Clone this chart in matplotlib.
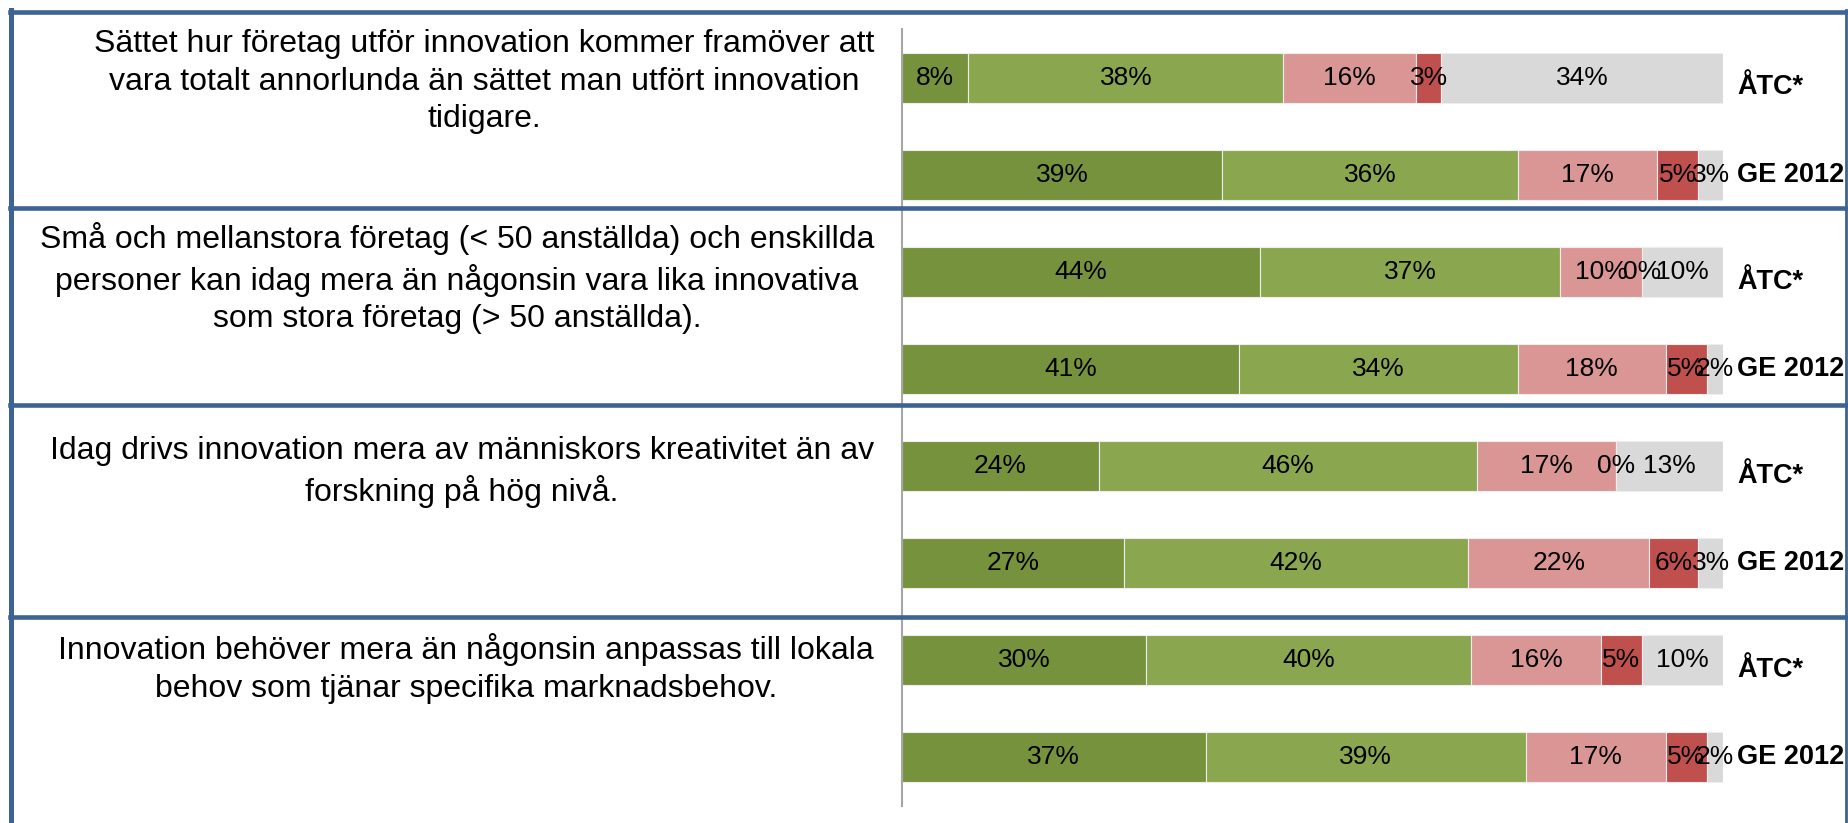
import matplotlib
matplotlib.use("Agg")
import matplotlib.pyplot as plt
from matplotlib.lines import Line2D
import numpy as np

plt.rcParams['font.family'] = ['Liberation Sans', 'DejaVu Sans']

# Data
statements = [
    "Sättet hur företag utför innovation kommer framöver att\nvara totalt annorlunda än sättet man utfört innovation\ntidigare.",
    "Små och mellanstora företag (< 50 anställda) och enskillda\npersoner kan idag mera än någonsin vara lika innovativa\nsom stora företag (> 50 anställda).",
    "Idag drivs innovation mera av människors kreativitet än av\nforskning på hög nivå.",
    "Innovation behöver mera än någonsin anpassas till lokala\nbehov som tjänar specifika marknadsbehov.",
]
groups = ["ÅTC*", "GE 2012"]

# one value per bar, top to bottom: st.1 ÅTC*, st.1 GE 2012, st.2 ÅTC*, ...
helt = [8, 39, 44, 41, 24, 27, 30, 37]
delvis = [38, 36, 37, 34, 46, 42, 40, 39]
delvis_ej = [16, 17, 10, 18, 17, 22, 16, 17]
inte_alls = [3, 5, 0, 5, 0, 6, 5, 5]
vet_ej = [34, 3, 10, 2, 13, 3, 10, 2]

colors = ['#76923C', '#8AA64E', '#D99694', '#C0504D', '#D9D9D9']

W, H = 1848, 823
fig = plt.figure(figsize=(W / 100, H / 100), dpi=100)

# axes placed in pixel terms: x 902..1723, y 29..806
ax = fig.add_axes([902 / W, 1 - 806 / H, 821 / W, 777 / H])

vals = np.array([helt, delvis, delvis_ej, inte_alls, vet_ej], dtype=float)
share = vals / vals.sum(axis=0) * 100  # 100% stacked, like Excel
ypos = np.arange(vals.shape[1])
left = np.zeros(len(ypos))
for row, raw, col in zip(share, vals, colors):
    bars = ax.barh(ypos, row, left=left, height=0.515, color=col,
                   edgecolor='#EDEDED', linewidth=0.8)
    ax.bar_label(bars, labels=[f"{int(v)}%" for v in raw],
                 label_type='center', fontsize=19, color='black')
    left += row

ax.set_xlim(0, 100)
ax.set_ylim(7.5, -0.5)
ax.set_xticks([])
ax.set_yticks([])
for s in ['top', 'right', 'bottom']:
    ax.spines[s].set_visible(False)
ax.spines['left'].set_color('#A6A6A6')
ax.spines['left'].set_linewidth(1.5)
ax.patch.set_alpha(0)

# ÅTC* / GE 2012 labels to the right
for i in ypos:
    off = 0.1 if i % 2 == 0 else 0.0
    ax.text(101.7, i + off, groups[i % 2], fontsize=19.5, fontweight='bold',
            ha='left', va='center')

# statement texts on the left
tops = [29, 222, 436, 633]
for txt, t in zip(statements, tops):
    fig.text(874 / W, 1 - t / H, txt, ha='right', va='top',
             multialignment='center', fontsize=23, linespacing=1.33)

# blue frame and separators
frame = '#3D6394'
def hline(y, lw=3.3):
    fig.add_artist(Line2D([10 / W, 1846 / W], [1 - y / H, 1 - y / H],
                          color=frame, lw=lw, transform=fig.transFigure, zorder=10))

def vline(x, y0, y1, lw=3.6):
    fig.add_artist(Line2D([x / W, x / W], [1 - y0 / H, 1 - y1 / H],
                          color=frame, lw=lw, transform=fig.transFigure, zorder=10))

hline(12)
for y in [208.5, 405, 617]:
    hline(y)
vline(10.5, 10, 823)
vline(1846, 10, 823, lw=2)

fig.savefig("out.png", dpi=100)
